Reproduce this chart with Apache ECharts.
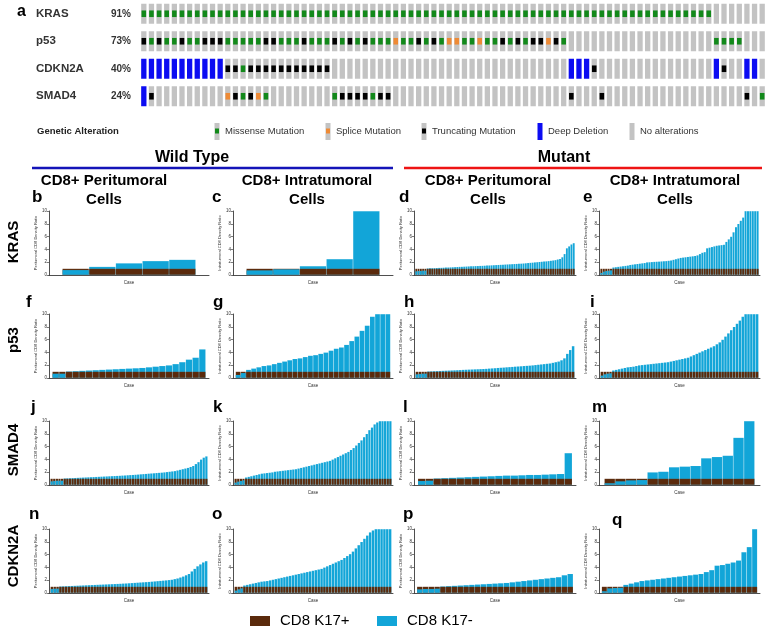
<!DOCTYPE html>
<html>
<head>
<meta charset="utf-8">
<title>KRAS / p53 / SMAD4 / CDKN2A - CD8 density ratio</title>
<script src="https://cdn.jsdelivr.net/npm/echarts@6/dist/echarts.min.js"></script>
<style>
html, body { margin: 0; padding: 0; background: #fff; }
#chart { width: 768px; height: 630px; }
</style>
</head>
<body>
<div id="chart"></div>
<script>
// ---- panel a: oncoprint (one letter per case, spaces only for reading) ----
// . = no alteration, M = missense, S = splice, T = truncating, D = deep deletion
var genes = ['KRAS', 'p53', 'CDKN2A', 'SMAD4'];
var genePct = ['91%', '73%', '40%', '24%'];
var krasAlt   = 'MMMMMMMMMM MMMMMMMMMM MMMMMMMMMM MMMMMMMMMM MMMMMMMMMM MMMMMMMMMM MMMMMMMMMM MMMMM..... ..';
var p53Alt    = 'TMTMMTMMTT TMMMMMTTMM MTMMMTMTMT MMMSMMTMTM SSMMSMMTMT MTTSTM.... .......... .....MMMM. ..';
var cdkn2aAlt = 'DDDDDDDDDD DTTMTTTTTT TTTTT..... .......... .......... ......DDDT .......... .....DT..D D.';
var smad4Alt  = 'DT........ .STMTSM... .....MTTTT MTT....... .......... ......T... T......... .........T .M';
var altNames = ['No alterations', 'Missense Mutation', 'Splice Mutation', 'Truncating Mutation', 'Deep Deletion'];

// ---- panels b-q: CD8 density ratio per case (CD8 K17+ is the reference, = 1) ----
var krasWtPeri  = [0.8, 1.3, 1.85, 2.2, 2.4];
var krasWtIntra = [0.75, 0.92, 1.4, 2.5, 10];
var krasMutPeri = [0.6, 0.65, 0.65, 0.7, 0.7,
  1.05, 1.07, 1.09, 1.1, 1.12, 1.14, 1.15, 1.17, 1.19, 1.2, 1.22, 1.24, 1.26, 1.28, 1.3, 1.31, 1.33, 1.35, 1.37, 1.38, 1.4, 1.42, 1.43, 1.45, 1.46, 1.48, 1.5,
  1.52, 1.54, 1.56, 1.58, 1.6, 1.62, 1.64, 1.66, 1.68, 1.7, 1.72, 1.74, 1.76, 1.78, 1.8,
  1.83, 1.86, 1.9, 1.93, 1.96, 2.0, 2.03, 2.06, 2.1, 2.13, 2.16, 2.2,
  2.25, 2.3, 2.35, 2.45, 2.55, 2.8, 3.3, 4.2, 4.5, 4.8, 5.0];
var krasMutIntra = [0.35, 0.55, 0.65, 0.7, 0.75,
  1.2, 1.25, 1.3, 1.35, 1.4, 1.45, 1.5, 1.6, 1.65, 1.7, 1.75, 1.8, 1.85, 1.9, 2.0,
  2.02, 2.05, 2.08, 2.1, 2.12, 2.15, 2.18, 2.2, 2.25, 2.3, 2.4, 2.5, 2.6, 2.7,
  2.75, 2.8, 2.85, 2.9, 2.95, 3.0, 3.1, 3.3, 3.5, 3.6, 4.2, 4.3, 4.4, 4.5, 4.6, 4.65, 4.7, 4.75,
  5.2, 5.6, 6.0, 6.7, 7.5, 8.0, 8.5, 9.0, 10, 10, 10, 10, 10, 10];

var p53WtPeri = [0.7, 0.7, 1.05, 1.1, 1.15, 1.2, 1.25, 1.3, 1.35, 1.4, 1.45, 1.5, 1.55, 1.6, 1.7, 1.8, 1.9, 2.0, 2.2, 2.5, 2.9, 3.2, 4.5];
var p53WtIntra = [0.5, 0.8, 1.3, 1.5, 1.7, 1.9, 2.0, 2.2, 2.4, 2.6, 2.8, 3.0, 3.1, 3.3, 3.5, 3.6, 3.8, 4.0, 4.3, 4.6, 4.8, 5.2, 5.8, 6.5, 7.4, 8.2, 9.6, 10, 10, 10];
var p53MutPeri = [0.6, 0.65, 0.7, 0.7,
  1.05, 1.07, 1.09, 1.11, 1.13, 1.15, 1.17, 1.19, 1.21, 1.23, 1.25, 1.27, 1.3, 1.32, 1.34, 1.36, 1.38, 1.4, 1.42, 1.44, 1.46,
  1.5, 1.53, 1.56, 1.6, 1.63, 1.66, 1.7, 1.73, 1.76, 1.8, 1.83, 1.86, 1.9, 1.93, 1.96, 2.0,
  2.05, 2.1, 2.15, 2.2, 2.25, 2.3, 2.4, 2.5, 2.6, 2.8, 3.1, 3.8, 4.4, 5.0];
var p53MutIntra = [0.4, 0.6, 0.7, 0.75,
  1.2, 1.3, 1.4, 1.5, 1.6, 1.7, 1.75, 1.8, 1.9, 2.0,
  2.05, 2.1, 2.15, 2.2, 2.25, 2.3, 2.35, 2.4, 2.45, 2.5, 2.6, 2.7, 2.8, 2.9,
  3.0, 3.1, 3.2, 3.4, 3.6, 3.8, 4.0, 4.2, 4.4, 4.6,
  4.8, 5.0, 5.3, 5.6, 6.0, 6.5, 7.0, 7.5, 8.0, 8.5, 9.0, 9.6, 10, 10, 10, 10, 10];

var smad4WtPeri = [0.6, 0.65, 0.7, 0.7, 0.7,
  1.05, 1.07, 1.09, 1.11, 1.13, 1.15, 1.17, 1.19, 1.21, 1.23, 1.25, 1.27, 1.29, 1.31, 1.33, 1.35, 1.37, 1.39, 1.41, 1.43, 1.45, 1.47, 1.5, 1.52, 1.55,
  1.58, 1.6, 1.63, 1.66, 1.7, 1.73, 1.76, 1.8, 1.83, 1.86, 1.9, 1.93, 1.96, 2.0, 2.05, 2.1, 2.15, 2.2,
  2.3, 2.4, 2.5, 2.6, 2.7, 2.85, 3.0, 3.3, 3.6, 4.0, 4.3, 4.5];
var smad4WtIntra = [0.4, 0.55, 0.65, 0.75,
  1.2, 1.3, 1.4, 1.5, 1.6, 1.7, 1.8, 1.85, 1.9, 1.95, 2.0, 2.1,
  2.15, 2.2, 2.25, 2.3, 2.35, 2.4, 2.45, 2.5, 2.6, 2.7, 2.8, 2.9, 3.0, 3.1, 3.2, 3.3,
  3.4, 3.5, 3.6, 3.7, 3.8, 4.0, 4.2, 4.4, 4.6, 4.8, 5.0, 5.2,
  5.5, 5.8, 6.2, 6.6, 7.0, 7.5, 8.0, 8.6, 9.0, 9.5, 9.8, 10, 10, 10, 10, 10];
var smad4MutPeri = [0.65, 0.7, 1.05, 1.1, 1.15, 1.2, 1.25, 1.3, 1.35, 1.4, 1.45, 1.5, 1.5, 1.55, 1.6, 1.6, 1.65, 1.7, 1.75, 5.0];
var smad4MutIntra = [0.3, 0.6, 0.75, 0.8, 2.0, 2.1, 2.8, 2.9, 3.0, 4.2, 4.4, 4.6, 7.4, 10];

var cdkn2aWtPeri = [0.65, 0.7, 0.7,
  1.05, 1.07, 1.09, 1.11, 1.13, 1.15, 1.17, 1.19, 1.21, 1.23, 1.25, 1.27, 1.29, 1.31, 1.33, 1.35, 1.37, 1.39, 1.41, 1.43, 1.45, 1.47, 1.5, 1.52,
  1.55, 1.58, 1.61, 1.64, 1.67, 1.7, 1.73, 1.76, 1.8, 1.84, 1.88, 1.92, 1.96, 2.0, 2.05,
  2.1, 2.2, 2.3, 2.45, 2.6, 2.8, 3.0, 3.4, 3.8, 4.2, 4.5, 4.8, 5.0];
var cdkn2aWtIntra = [0.4, 0.6, 0.75,
  1.2, 1.3, 1.4, 1.5, 1.6, 1.7, 1.8, 1.85, 1.9, 2.0, 2.1, 2.2,
  2.3, 2.4, 2.5, 2.6, 2.7, 2.8, 2.9, 3.0, 3.1, 3.2, 3.3, 3.4, 3.5, 3.6,
  3.7, 3.8, 4.0, 4.2, 4.4, 4.6, 4.8, 5.0, 5.2, 5.5, 5.8,
  6.1, 6.5, 7.0, 7.5, 8.0, 8.5, 9.0, 9.5, 9.8, 10, 10, 10, 10, 10, 10];
var cdkn2aMutPeri = [0.6, 0.65, 0.65, 0.7, 1.05, 1.1, 1.15, 1.2, 1.25, 1.3, 1.35, 1.4, 1.45, 1.5, 1.55, 1.6, 1.7, 1.8, 1.9, 2.0, 2.1, 2.2, 2.3, 2.4, 2.5, 2.8, 3.0];
var cdkn2aMutIntra = [0.3, 0.75, 0.8, 0.85, 1.3, 1.5, 1.7, 1.9, 2.0, 2.1, 2.2, 2.3, 2.4, 2.5, 2.6, 2.7, 2.8, 2.9, 3.0, 3.3, 3.6, 4.3, 4.4, 4.6, 4.8, 5.1, 6.4, 7.2, 10];

var rowGenes = ['KRAS', 'p53', 'SMAD4', 'CDKN2A'];
var colTitles = ['CD8+ Peritumoral\nCells', 'CD8+ Intratumoral\nCells', 'CD8+ Peritumoral\nCells', 'CD8+ Intratumoral\nCells'];
var yNames = ['Peritumoral CD8 Density Ratio', 'Intratumoral CD8 Density Ratio', 'Peritumoral CD8 Density Ratio', 'Intratumoral CD8 Density Ratio'];
var panelLetters = [['b', 'c', 'd', 'e'], ['f', 'g', 'h', 'i'], ['j', 'k', 'l', 'm'], ['n', 'o', 'p', 'q']];
var panelData = [
  [krasWtPeri, krasWtIntra, krasMutPeri, krasMutIntra],
  [p53WtPeri, p53WtIntra, p53MutPeri, p53MutIntra],
  [smad4WtPeri, smad4WtIntra, smad4MutPeri, smad4MutIntra],
  [cdkn2aWtPeri, cdkn2aWtIntra, cdkn2aMutPeri, cdkn2aMutIntra]
];
var yTicks = [0, 2, 4, 6, 8, 10];

// ---- layout ----
var FONT = '"Liberation Sans", Arial, sans-serif';
var BLUE = '#12a5d8', BROWN = '#5a2a0c';
var altColors = ['#c3c3c3', '#12891a', '#ee8a35', '#000000', '#0c0cf2'];
var colLeft = [49, 233, 414, 599], colWidth = [160, 160, 162, 161];
var rowTop = [211, 314, 421, 529], gridH = 64;
var letterPos = [[[32, 197], [212, 197], [399, 197], [583, 197]],
                 [[26, 302], [213, 302], [404, 302], [590, 302]],
                 [[31, 407], [213, 407], [403, 407], [592, 407]],
                 [[29, 514], [212, 514], [403, 514], [612, 520]]];
var rowLabelY = [242, 340, 450, 556];
var colCenter = [104, 307, 488, 675];

var altCode = { '.': 0, 'M': 1, 'S': 2, 'T': 3, 'D': 4 };
var onco = [];
[krasAlt, p53Alt, cdkn2aAlt, smad4Alt].forEach(function (s, gi) {
  s.replace(/ /g, '').split('').forEach(function (ch, ci) {
    onco.push([ci, gi, altCode[ch]]);
  });
});
var nCases = krasAlt.replace(/ /g, '').length;
var caseIdx = [];
for (var i = 0; i < nCases; i++) caseIdx.push(i);

var grids = [{ left: 140, top: -2, width: 626, height: 112 }];
var xAxes = [{ type: 'category', gridIndex: 0, data: caseIdx, show: false }];
var yAxes = [{
  type: 'category', gridIndex: 0, data: genes, inverse: true,
  axisLine: { show: false }, axisTick: { show: false }, splitLine: { show: false },
  axisLabel: {
    margin: 9,
    formatter: function (v, idx) { return '{g|' + v + '}{p|' + genePct[idx] + '}'; },
    rich: {
      g: { width: 75, align: 'left', fontFamily: FONT, fontWeight: 'bold', fontSize: 11.5, color: '#333' },
      p: { fontFamily: FONT, fontWeight: 'bold', fontSize: 10, color: '#333' }
    }
  }
}];
var series = [{
  type: 'custom', xAxisIndex: 0, yAxisIndex: 0, data: onco, silent: true,
  renderItem: function (params, api) {
    var c = api.coord([api.value(0), api.value(1)]);
    var k = api.value(2);
    var w = 5.3, h = 20;
    var kids = [{ type: 'rect', shape: { x: c[0] - w / 2, y: c[1] - h / 2, width: w, height: h },
      style: { fill: k === 4 ? altColors[4] : altColors[0] } }];
    if (k >= 1 && k <= 3) {
      kids.push({ type: 'rect', shape: { x: c[0] - 2.3, y: c[1] - 3.3, width: 4.6, height: 6.6 },
        style: { fill: altColors[k] } });
    }
    return { type: 'group', children: kids };
  }
}];

var graphics = [];
function txt(x, y, text, font, opt) {
  opt = opt || {};
  graphics.push({
    type: 'text', x: x, y: y, rotation: opt.rot || 0, silent: true,
    style: { text: text, font: font, fill: opt.fill || '#000', align: opt.align || 'left',
      verticalAlign: 'middle', lineHeight: opt.lh }
  });
}

// bar panels
panelData.forEach(function (row, r) {
  row.forEach(function (vals, c) {
    var gi = grids.length;
    grids.push({ left: colLeft[c], top: rowTop[r], width: colWidth[c], height: gridH });
    xAxes.push({
      type: 'value', gridIndex: gi, min: -1, max: vals.length,
      axisLine: { show: true, onZero: false, lineStyle: { color: '#222', width: 0.8 } },
      axisTick: { show: false }, axisLabel: { show: false }, splitLine: { show: false },
      name: 'Case', nameLocation: 'middle', nameGap: 5,
      nameTextStyle: { fontSize: 4.5, color: '#333', fontFamily: FONT }
    });
    yAxes.push({
      type: 'value', gridIndex: gi, min: yTicks[0], max: yTicks[yTicks.length - 1], interval: 2,
      axisLine: { show: true, onZero: false, lineStyle: { color: '#222', width: 0.8 } },
      axisTick: { show: true, length: 2, lineStyle: { color: '#222', width: 0.6 } },
      axisLabel: { fontSize: 4.5, margin: 2, color: '#333', fontFamily: FONT },
      splitLine: { show: false },
      name: yNames[c], nameLocation: 'middle', nameGap: 10,
      nameTextStyle: { fontSize: 4, color: '#333', fontFamily: FONT }
    });
    var back = vals.map(function (v, i) {
      return { value: [i, Math.max(v, 1)], itemStyle: { color: v >= 1 ? BLUE : BROWN } };
    });
    var front = vals.map(function (v, i) {
      return { value: [i, Math.min(v, 1)], itemStyle: { color: v >= 1 ? BROWN : BLUE } };
    });
    [back, front].forEach(function (d) {
      series.push({
        type: 'bar', xAxisIndex: gi, yAxisIndex: gi, data: d, silent: true,
        barGap: '-100%', barCategoryGap: '0%', animation: false,
        itemStyle: { borderColor: 'rgba(255,255,255,0.12)', borderWidth: 0.4 }
      });
    });
    txt(letterPos[r][c][0], letterPos[r][c][1], panelLetters[r][c], 'bold 17px ' + FONT);
  });
  txt(14, rowLabelY[r], rowGenes[r], 'bold 15px ' + FONT, { rot: Math.PI / 2, align: 'center' });
});

// headings
txt(17, 12, 'a', 'bold 16px ' + FONT);
txt(192, 158, 'Wild Type', 'bold 16px ' + FONT, { align: 'center' });
txt(564, 158, 'Mutant', 'bold 16px ' + FONT, { align: 'center' });
graphics.push({ type: 'line', shape: { x1: 32, y1: 168, x2: 393, y2: 168 }, style: { stroke: '#1414b8', lineWidth: 2.5 } });
graphics.push({ type: 'line', shape: { x1: 404, y1: 168, x2: 762, y2: 168 }, style: { stroke: '#ee1414', lineWidth: 2.5 } });
colTitles.forEach(function (t, c) {
  txt(colCenter[c], 190, t, 'bold 15px ' + FONT, { align: 'center', lh: 19 });
});

// oncoprint legend
txt(37, 131, 'Genetic Alteration', 'bold 9.5px ' + FONT, { fill: '#222' });
var legX = [217, 328, 424, 540, 632];
var legOrder = [1, 2, 3, 4, 0];
legOrder.forEach(function (k, i) {
  var x = legX[i];
  graphics.push({ type: 'rect', shape: { x: x - 2.5, y: 123, width: 5, height: 17 },
    style: { fill: k === 4 ? altColors[4] : altColors[0] } });
  if (k >= 1 && k <= 3) {
    graphics.push({ type: 'rect', shape: { x: x - 2, y: 128.5, width: 4, height: 5 }, style: { fill: altColors[k] } });
  }
  txt(x + 8, 131.5, altNames[k], '9.5px ' + FONT, { fill: '#333' });
});

// bar legend
graphics.push({ type: 'rect', shape: { x: 250, y: 616, width: 20, height: 10 }, style: { fill: BROWN } });
txt(280, 621, 'CD8 K17+', '15px ' + FONT);
graphics.push({ type: 'rect', shape: { x: 377, y: 616, width: 20, height: 10 }, style: { fill: BLUE } });
txt(407, 621, 'CD8 K17-', '15px ' + FONT);

var chart = echarts.init(document.getElementById('chart'));
chart.setOption({
  backgroundColor: '#fff',
  animation: false,
  grid: grids,
  xAxis: xAxes,
  yAxis: yAxes,
  series: series,
  graphic: graphics
});
</script>
</body>
</html>
